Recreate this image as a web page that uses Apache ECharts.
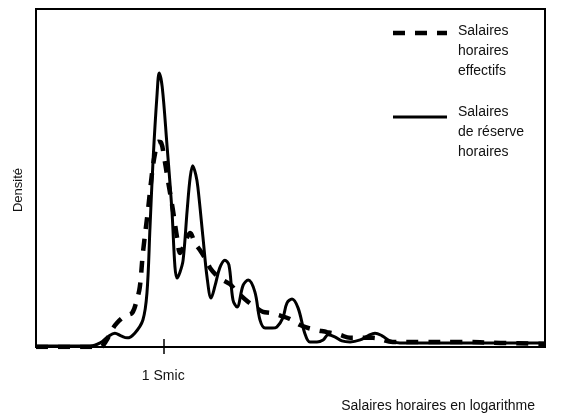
<!DOCTYPE html>
<html>
<head>
<meta charset="utf-8">
<script src="https://cdn.jsdelivr.net/npm/echarts@6/dist/echarts.min.js"></script>
<style>
  html, body { margin: 0; padding: 0; background: #fff; }
  #chart { width: 561px; height: 415px; }
</style>
</head>
<body>
<div id="chart"></div>
<script>
// Densités de salaires horaires (axe x : log du salaire, 0-100 ; 1 Smic à 25)
const smicPos = 25;
const smicLabel = '1 Smic';

// salaires de réserve horaires (trait plein)
const reserve = [
  [0, 0.3], [4.7, 0.3], [10.6, 0.3], [12.6, 1.2], [14.1, 3.0], [15.5, 4.1], [16.7, 3.3],
  [17.9, 2.7], [19.4, 4.1], [21.0, 8.0], [21.8, 16.0], [22.4, 35.5], [23.0, 55.3],
  [23.8, 75.1], [24.2, 81.1], [24.8, 76.9], [25.7, 60.4], [26.7, 40.5], [27.3, 23.7],
  [27.7, 20.4], [28.3, 22.2], [28.9, 25.7], [29.7, 40.5], [30.3, 50.3], [30.8, 53.6],
  [31.4, 50.9], [31.8, 47.3], [32.8, 32.5], [33.6, 20.7], [34.4, 14.5], [35.2, 18.3],
  [36.1, 23.4], [37.1, 25.7], [37.9, 24.3], [38.7, 13.9], [39.5, 11.8], [40.7, 18.3],
  [41.7, 19.8], [43.0, 16.3], [44.0, 8.0], [45.0, 5.6], [46.4, 5.6], [47.3, 5.9],
  [48.5, 8.6], [49.3, 13.0], [50.3, 14.2], [51.5, 11.5], [52.8, 4.1], [53.8, 1.5],
  [55.2, 1.5], [56.4, 2.1], [57.4, 3.6], [58.7, 3.0], [60.1, 1.8], [61.7, 1.5],
  [63.7, 2.1], [65.2, 3.3], [66.6, 4.1], [68.0, 3.3], [69.5, 1.8], [71.5, 1.2],
  [77.4, 1.2], [85.3, 1.2], [93.1, 1.2], [100, 1.2]
];

// salaires horaires effectifs (tirets)
const effectifs = [
  [0, 0], [6.7, 0], [12.6, 0], [13.9, 2.1], [14.9, 5.0], [15.9, 7.1], [17.5, 9.2],
  [18.9, 10.1], [19.8, 13.9], [20.4, 17.8], [21.0, 27.8], [22.0, 40.5], [22.8, 51.5],
  [23.4, 57.4], [24.0, 60.7], [24.6, 60.4], [25.1, 56.8], [25.9, 49.4], [26.9, 40.5],
  [27.7, 32.5], [28.3, 27.8], [29.1, 30.2], [29.7, 32.5], [30.3, 33.7], [31.2, 30.8],
  [32.2, 28.7], [33.2, 26.3], [34.2, 23.4], [35.6, 21.0], [36.7, 19.8], [38.1, 18.6],
  [39.5, 16.3], [41.7, 13.3], [43.4, 11.5], [44.6, 10.4], [46.0, 10.1], [47.5, 9.5],
  [49.9, 8.3], [51.9, 6.5], [54.2, 5.3], [57.2, 4.4], [59.7, 3.6], [61.7, 2.7],
  [66.2, 2.7], [70.1, 1.5], [75.4, 1.5], [83.3, 1.5], [91.2, 1.2], [100, 0.9]
];

const FONT = '"Liberation Sans", Arial, Helvetica, sans-serif';
const DASH = [12, 10];

const chart = echarts.init(document.getElementById('chart'), null, { renderer: 'canvas' });

chart.setOption({
  animation: false,
  backgroundColor: '#fff',
  grid: { left: 36, right: 16, top: 9, bottom: 68, show: true, borderColor: '#000', borderWidth: 2 },
  xAxis: [
    {
      type: 'value', min: 0, max: 100, position: 'bottom',
      axisLine: { show: true, lineStyle: { color: '#000', width: 2 } },
      axisTick: { show: true, customValues: [smicPos], length: 7, lineStyle: { color: '#000', width: 1.5 } },
      axisLabel: {
        show: true, customValues: [smicPos], formatter: () => smicLabel, margin: 22,
        color: '#111', fontSize: 14, fontFamily: FONT
      },
      splitLine: { show: false }
    },
    {
      // partie du repère au-dessus de l'axe
      type: 'value', min: 0, max: 100, position: 'bottom', offset: 0,
      axisLine: { show: false },
      axisTick: { show: true, inside: true, customValues: [smicPos], length: 8, lineStyle: { color: '#000', width: 1.5 } },
      axisLabel: { show: false },
      splitLine: { show: false }
    }
  ],
  yAxis: {
    type: 'value', min: 0, max: 100,
    axisLine: { show: false }, axisTick: { show: false },
    axisLabel: { show: false }, splitLine: { show: false }
  },
  series: [
    {
      name: 'Salaires de réserve horaires', type: 'line', data: reserve,
      smooth: 0.35, showSymbol: false,
      lineStyle: { color: '#000', width: 3 }
    },
    {
      name: 'Salaires horaires effectifs', type: 'line', data: effectifs,
      smooth: 0.35, showSymbol: false,
      lineStyle: { color: '#000', width: 4.5, type: DASH, cap: 'butt' }
    }
  ],
  graphic: [
    // légende
    { type: 'line', shape: { x1: 393, y1: 33, x2: 447, y2: 33 },
      style: { stroke: '#000', lineWidth: 4.5, lineDash: DASH } },
    { type: 'text', left: 458, top: 21.5,
      style: { text: 'Salaires\nhoraires\neffectifs', font: '14px ' + FONT, lineHeight: 20, fill: '#111' } },
    { type: 'line', shape: { x1: 393, y1: 117, x2: 447, y2: 117 },
      style: { stroke: '#000', lineWidth: 3 } },
    { type: 'text', left: 458, top: 102.5,
      style: { text: 'Salaires\nde réserve\nhoraires', font: '14px ' + FONT, lineHeight: 20, fill: '#111' } },
    // titres d'axes
    { type: 'text', x: 18.5, y: 190, rotation: Math.PI / 2,
      style: { text: 'Densité', font: '13px ' + FONT, fill: '#111', align: 'center', verticalAlign: 'middle' } },
    { type: 'text', x: 535, y: 406,
      style: { text: 'Salaires horaires en logarithme', font: '14px ' + FONT, fill: '#111', align: 'right', verticalAlign: 'middle' } }
  ]
});
</script>
</body>
</html>
